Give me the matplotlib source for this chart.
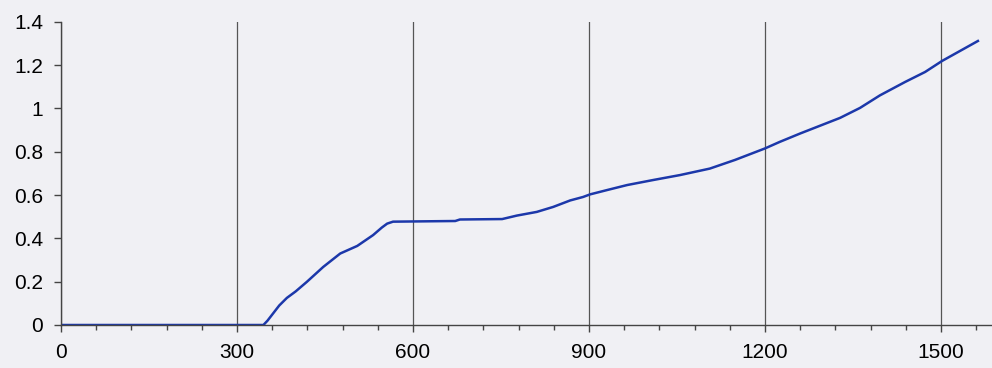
import matplotlib.pyplot as plt
from matplotlib.ticker import MultipleLocator

# cumulative curve read at sample positions
x_vals = [0, 345, 352, 362, 372, 385, 400, 419, 447, 476, 505, 532, 547, 556,
          566, 672, 680, 752, 777, 811, 839, 868, 890, 902, 931, 965, 1009,
          1055, 1106, 1149, 1200, 1225, 1260, 1328, 1362, 1396, 1439, 1473,
          1502, 1563]
y_vals = [0, 0, 0.02, 0.055, 0.09, 0.125, 0.155, 0.199, 0.268, 0.330, 0.365,
          0.415, 0.450, 0.468, 0.477, 0.480, 0.487, 0.489, 0.505, 0.522,
          0.545, 0.575, 0.591, 0.603, 0.623, 0.646, 0.669, 0.692, 0.722,
          0.762, 0.815, 0.845, 0.884, 0.956, 1.002, 1.060, 1.122, 1.168,
          1.219, 1.311]

x_ticks = [0, 300, 600, 900, 1200, 1500]
y_ticks = [0, 0.2, 0.4, 0.6, 0.8, 1.0, 1.2, 1.4]
y_labels = ['0', '0.2', '0.4', '0.6', '0.8', '1', '1.2', '1.4']

plt.rcParams['font.family'] = ['Liberation Sans', 'DejaVu Sans']
bg = '#f0f0f4'

fig = plt.figure(figsize=(9.92, 3.68), dpi=100, facecolor=bg)
ax = fig.add_axes([61 / 992, 43 / 368, 1 - 61 / 992, 303.3 / 368])
ax.set_facecolor(bg)

ax.plot(x_vals, y_vals, color='#1c38aa', linewidth=1.8)

ax.set_xlim(0, 1587)
ax.set_ylim(0, 1.4)
ax.set_xticks(x_ticks)
ax.xaxis.set_minor_locator(MultipleLocator(60))
ax.set_yticks(y_ticks)
ax.set_yticklabels(y_labels)

# vertical grid only
ax.grid(axis='x', color='#555555', linewidth=0.9)
ax.set_axisbelow(True)

for side in ['top', 'right']:
    ax.spines[side].set_visible(False)
for side in ['left', 'bottom']:
    ax.spines[side].set_color('#444444')
    ax.spines[side].set_linewidth(1.0)

ax.tick_params(axis='y', which='major', direction='out', length=5, width=1,
               color='#444444', pad=8, labelsize=15)
ax.tick_params(axis='x', which='major', direction='out', length=5, width=1,
               color='#444444', pad=8, labelsize=15)
ax.tick_params(axis='x', which='minor', direction='out', length=3.5, width=1,
               color='#444444')

fig.savefig('out.png', dpi=100, facecolor=bg)
